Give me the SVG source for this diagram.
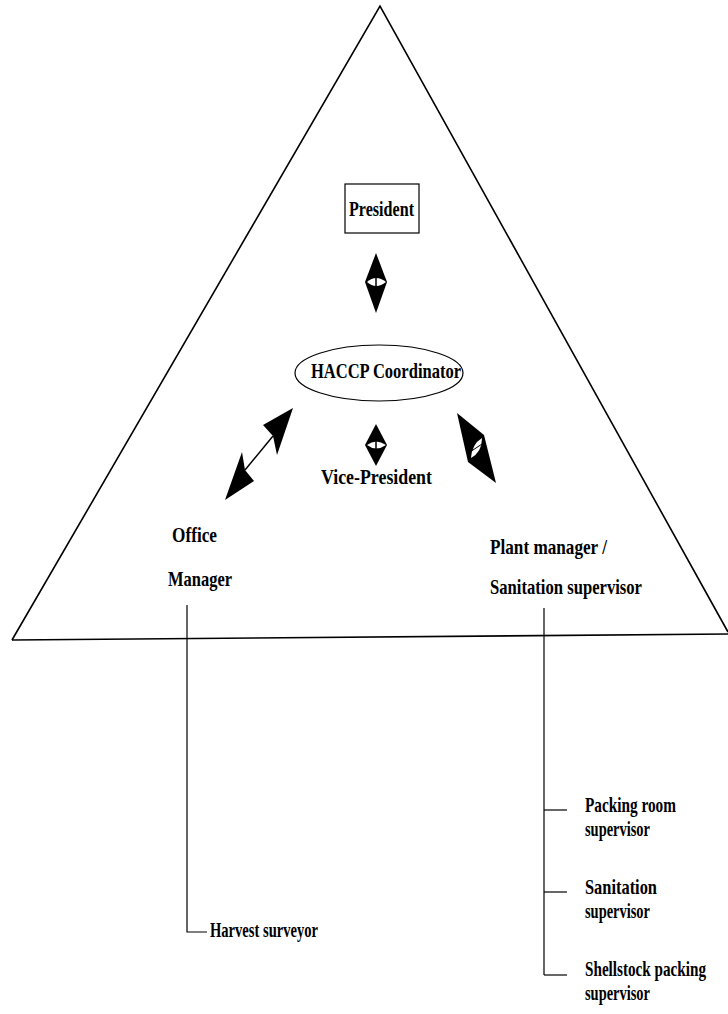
<svg xmlns="http://www.w3.org/2000/svg" width="728" height="1014" viewBox="0 0 728 1014">
<style>
.t{font-family:"Liberation Serif","Times New Roman",serif;font-size:22px;font-weight:bold;fill:#000}
.ln{fill:none;stroke:#000;stroke-width:1.2}
.tri{fill:none;stroke:#000;stroke-width:1.6}
.hd{fill:#000;stroke:none}
.eye{fill:#fff;stroke:none}
</style>
<rect width="728" height="1014" fill="#fff"/>
<g id="frame">
<polyline class="tri" points="12,640 380,6 728,632"/>
<line class="tri" x1="12" y1="640" x2="728" y2="634"/>
</g>
<g id="connectors">
<polygon class="hd" points="376,253 387,282 376,313 365,282"/>
<path class="eye" d="M367,282 Q376,274 386,282 Q376,290 367,282 Z"/>
<line x1="376" y1="277" x2="376" y2="287" stroke="#000" stroke-width="1.5"/>
<polygon class="hd" points="376,424 387,445 376,466 365,445"/>
<path class="eye" d="M367,445 Q376,438 386,445 Q376,452 367,445 Z"/>
<line x1="376" y1="440" x2="376" y2="450" stroke="#000" stroke-width="1.5"/>
<polygon class="hd" points="457,413 484,435 496,483 468,462"/>
<path class="eye" d="M471,458 Q472,444 482,438 Q482,452 471,458 Z"/>
<line x1="470" y1="452" x2="482" y2="444" stroke="#000" stroke-width="1"/>
<line x1="273" y1="436" x2="245" y2="470" stroke="#000" stroke-width="1.5"/>
<polygon class="hd" points="293,408 263,425 273,436 277,455"/>
<polygon class="hd" points="225,500 242,452 245,470 254,481"/>
<polyline class="ln" points="187,605 187,932 207,932"/>
<line class="ln" x1="544" y1="608" x2="544" y2="975"/>
<line class="ln" x1="544" y1="810" x2="567" y2="810"/>
<line class="ln" x1="544" y1="892" x2="567" y2="892"/>
<line class="ln" x1="544" y1="975" x2="567" y2="975"/>
</g>
<g id="president">
<rect x="345" y="184" width="74" height="49" fill="#fff" stroke="#000" stroke-width="1.2"/>
<text class="t" x="349" y="216" textLength="65" lengthAdjust="spacingAndGlyphs">President</text>
</g>
<g id="haccp">
<ellipse cx="379" cy="373" rx="84" ry="28" fill="#fff" stroke="#000" stroke-width="1.2"/>
<text class="t" x="311" y="378" textLength="150" lengthAdjust="spacingAndGlyphs">HACCP Coordinator</text>
</g>
<g id="vice-president">
<text class="t" x="321" y="484" textLength="111" lengthAdjust="spacingAndGlyphs">Vice-President</text>
</g>
<g id="office-manager">
<text class="t" x="172" y="542" textLength="45" lengthAdjust="spacingAndGlyphs">Office</text>
<text class="t" x="168" y="586" textLength="64" lengthAdjust="spacingAndGlyphs">Manager</text>
</g>
<g id="plant-manager">
<text class="t" x="490" y="554" textLength="117" lengthAdjust="spacingAndGlyphs">Plant manager /</text>
<text class="t" x="490" y="594" textLength="152" lengthAdjust="spacingAndGlyphs">Sanitation supervisor</text>
</g>
<g id="packing-room">
<text class="t" x="585" y="812" textLength="91" lengthAdjust="spacingAndGlyphs">Packing room</text>
<text class="t" x="585" y="836" textLength="65" lengthAdjust="spacingAndGlyphs">supervisor</text>
</g>
<g id="sanitation">
<text class="t" x="585" y="894" textLength="72" lengthAdjust="spacingAndGlyphs">Sanitation</text>
<text class="t" x="585" y="918" textLength="65" lengthAdjust="spacingAndGlyphs">supervisor</text>
</g>
<g id="shellstock">
<text class="t" transform="translate(585,976) scale(0.69,1)" x="0" y="0">Shellstock packing</text>
<text class="t" x="585" y="1000" textLength="65" lengthAdjust="spacingAndGlyphs">supervisor</text>
</g>
<g id="harvest">
<text class="t" x="210" y="937" textLength="108" lengthAdjust="spacingAndGlyphs">Harvest surveyor</text>
</g>
</svg>
